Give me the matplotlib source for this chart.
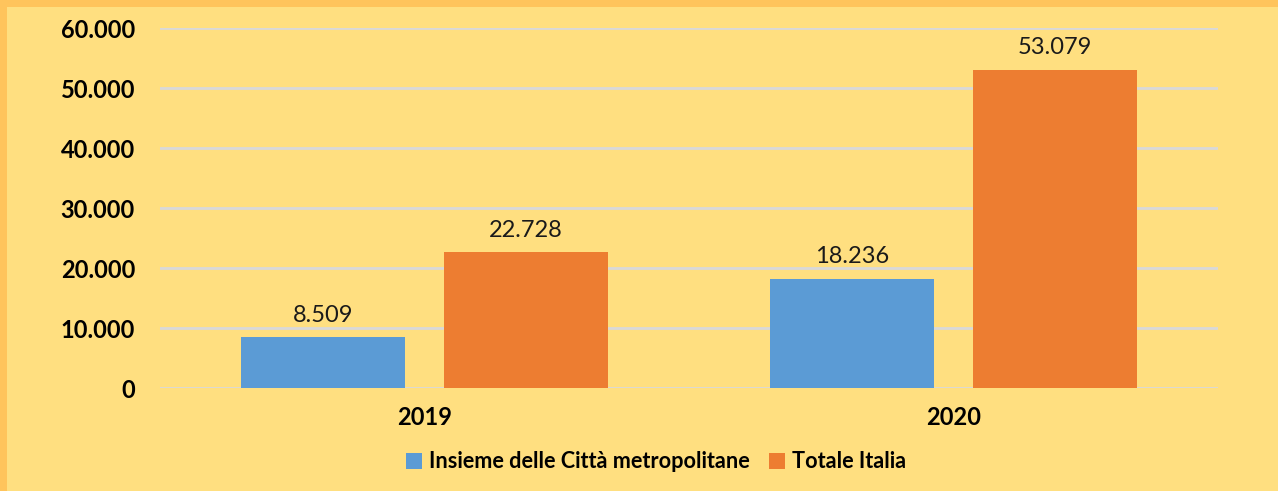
import matplotlib
matplotlib.use("Agg")
import matplotlib.pyplot as plt
import numpy as np

categories = ["2019", "2020"]
series_names = ["Insieme delle Città metropolitane", "Totale Italia"]
metro_values = [8509, 18236]
italia_values = [22728, 53079]
yticks = [0, 10000, 20000, 30000, 40000, 50000, 60000]

def fmt(v):
    return f"{v:,}".replace(",", ".")

plt.rcParams['font.family'] = ['Lato', 'DejaVu Sans']

W, H = 1278, 491
fig = plt.figure(figsize=(W/100, H/100), dpi=100)
bg = "#FFDF80"
border = "#FFC45C"
fig.patch.set_facecolor(border)
fig.add_artist(matplotlib.patches.Rectangle((7/W, 0), 1, 1 - 7/H, transform=fig.transFigure,
                                            facecolor=bg, edgecolor="none", zorder=0))

ax = fig.add_axes([160/W, 1 - 388/H, (1218-160)/W, (388-28)/H])
ax.set_facecolor("none")

x = np.arange(len(categories))
bw = 0.31
gap = 0.074
c1, c2 = "#5B9BD5", "#ED7D31"
b1 = ax.bar(x - (bw + gap)/2, metro_values, bw, color=c1, label=series_names[0], zorder=3)
b2 = ax.bar(x + (bw + gap)/2, italia_values, bw, color=c2, label=series_names[1], zorder=3)

for bars, vals in ((b1, metro_values), (b2, italia_values)):
    for r, v in zip(bars, vals):
        ax.annotate(fmt(v), (r.get_x() + r.get_width()/2, v), xytext=(0, 8),
                    textcoords="offset points", ha="center", va="bottom",
                    fontsize=17, color="#1a1a1a")

ax.set_xlim(-0.5, 1.5)
ax.set_ylim(0, 60000)
ax.set_yticks(yticks)
ax.set_yticklabels([fmt(v) for v in yticks], fontsize=17, fontweight="bold")
ax.set_xticks(x)
ax.set_xticklabels(categories, fontsize=17, fontweight="bold")
ax.tick_params(axis="y", length=0, pad=18)
ax.tick_params(axis="x", length=0, pad=13)
ax.grid(axis="y", color="#D9D9D9", linewidth=2, zorder=0)
for s in ax.spines.values():
    s.set_visible(False)

leg = fig.legend(handles=[b1, b2], labels=series_names, loc="center", bbox_to_anchor=(656/W, 1 - 462/H),
                 ncol=2, frameon=False, prop={"size": 15.6, "weight": "bold"},
                 handlelength=0.75, handleheight=0.75, handletextpad=0.3, columnspacing=0.9)

fig.savefig("out.png", dpi=100, facecolor=fig.get_facecolor())
